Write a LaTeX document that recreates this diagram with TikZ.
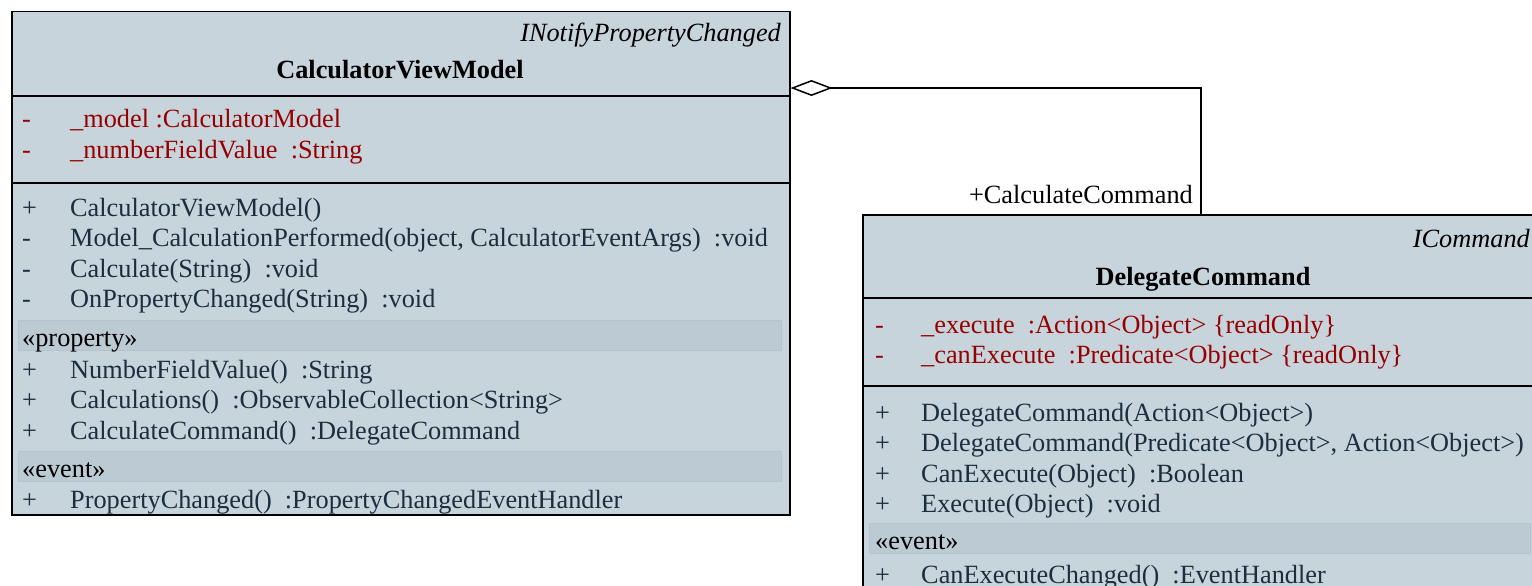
\documentclass[tikz,border=0pt]{standalone}
\usepackage{fontspec}
\setmainfont{Liberation Serif}
\usetikzlibrary{arrows.meta}
\definecolor{classfill}{RGB}{199,212,220}
\definecolor{bandfill}{RGB}{188,202,211}
\definecolor{bandline}{RGB}{180,196,206}
\definecolor{attrred}{RGB}{150,0,0}
\definecolor{opblue}{RGB}{28,45,62}
\newcommand{\umlsize}{\fontsize{26.3}{30}\selectfont}
\newcommand{\vis}[2][48pt]{\makebox[#1][l]{#2}}
\tikzset{
  classbox/.style={draw, line width=1.5pt, fill=classfill, anchor=north west, inner sep=0pt},
  row/.style={anchor=base west, inner sep=0pt, font=\umlsize},
  attr/.style={row, text=attrred},
  oper/.style={row, text=opblue},
  band/.style={fill=bandfill, draw=bandline, line width=1pt},
  sep/.style={line width=1.5pt},
}
\begin{document}
\begin{tikzpicture}[x=1pt,y=-1pt]
  \useasboundingbox (0,0) rectangle (1532,586);
  % CalculatorViewModel
  \node[classbox, minimum width=778pt, minimum height=503pt] (cvm) at (11,11) {};
  \draw[sep] (11,96) -- (789,96);% header line
  \draw[sep] (11,183) -- (791,183);% attributes line
  \node[anchor=base east, inner sep=0pt, font=\umlsize\itshape] (cvm-iface) at (781,42) {INotifyPropertyChanged};
  \node[anchor=base, inner sep=0pt, font=\umlsize\bfseries] (cvm-name) at (400,79) {CalculatorViewModel};
  \node[attr] (cvm-a1) at (22,128) {\vis{-}\_model :CalculatorModel};
  \node[attr] (cvm-a2) at (22,158) {\vis{-}\_numberFieldValue\ \ :String};
  \node[oper] (cvm-o1) at (22,216) {\vis{+}CalculatorViewModel()};
  \node[oper] (cvm-o2) at (22,246) {\vis{-}Model\_CalculationPerformed(object, CalculatorEventArgs)\ \ :void};
  \node[oper] (cvm-o3) at (22,277) {\vis{-}Calculate(String)\ \ :void};
  \node[oper] (cvm-o4) at (22,307) {\vis{-}OnPropertyChanged(String)\ \ :void};
  % property
  \draw[band] (18,320) rectangle (781,350);
  \node[row] (cvm-prop) at (22,346) {«property»};
  \node[oper] (cvm-p1) at (22,378) {\vis{+}NumberFieldValue()\ \ :String};
  \node[oper] (cvm-p2) at (22,408) {\vis{+}Calculations()\ \ :ObservableCollection<String>};
  \node[oper] (cvm-p3) at (22,439) {\vis{+}CalculateCommand()\ \ :DelegateCommand};
  % event
  \draw[band] (18,451) rectangle (781,481);
  \node[row] (cvm-event) at (22,477) {«event»};
  \node[oper] (cvm-e1) at (22,508) {\vis{+}PropertyChanged()\ \ :PropertyChangedEventHandler};
  % DelegateCommand
  \node[classbox, minimum width=680pt, minimum height=400pt] (dc) at (862,214) {};
  \draw[sep] (862,298) -- (1542,298);% header line
  \draw[sep] (862,386) -- (1542,386);% attributes line
  \node[anchor=base east, inner sep=0pt, font=\umlsize\itshape] (dc-iface) at (1530,247) {ICommand};
  \node[anchor=base, inner sep=0pt, font=\umlsize\bfseries] (dc-name) at (1203,285) {DelegateCommand};
  \node[attr] (dc-a1) at (875,333) {\vis[46pt]{-}\_execute\ \ :Action<Object> \{readOnly\}};
  \node[attr] (dc-a2) at (875,363) {\vis[46pt]{-}\_canExecute\ \ :Predicate<Object> \{readOnly\}};
  \node[oper] (dc-o1) at (875,421) {\vis[46pt]{+}DelegateCommand(Action<Object>)};
  \node[oper] (dc-o2) at (875,451) {\vis[46pt]{+}DelegateCommand(Predicate<Object>, Action<Object>)};
  \node[oper] (dc-o3) at (875,482) {\vis[46pt]{+}CanExecute(Object)\ \ :Boolean};
  \node[oper] (dc-o4) at (875,512) {\vis[46pt]{+}Execute(Object)\ \ :void};
  % event
  \draw[band] (869,523) rectangle (1530,553);
  \node[row] (dc-event) at (875,549) {«event»};
  \node[oper] (dc-e1) at (875,583) {\vis[46pt]{+}CanExecuteChanged()\ \ :EventHandler};
  % aggregation
  \draw[line width=1.5pt, {Diamond[open,length=42pt,width=16pt,line width=1.5pt]}-]
    ([yshift=-77pt]cvm.north east) -| ([xshift=339pt]dc.north west);
  \node[anchor=base east, inner sep=0pt, font=\umlsize] (role) at (1193,203) {+CalculateCommand};
\end{tikzpicture}
\end{document}
